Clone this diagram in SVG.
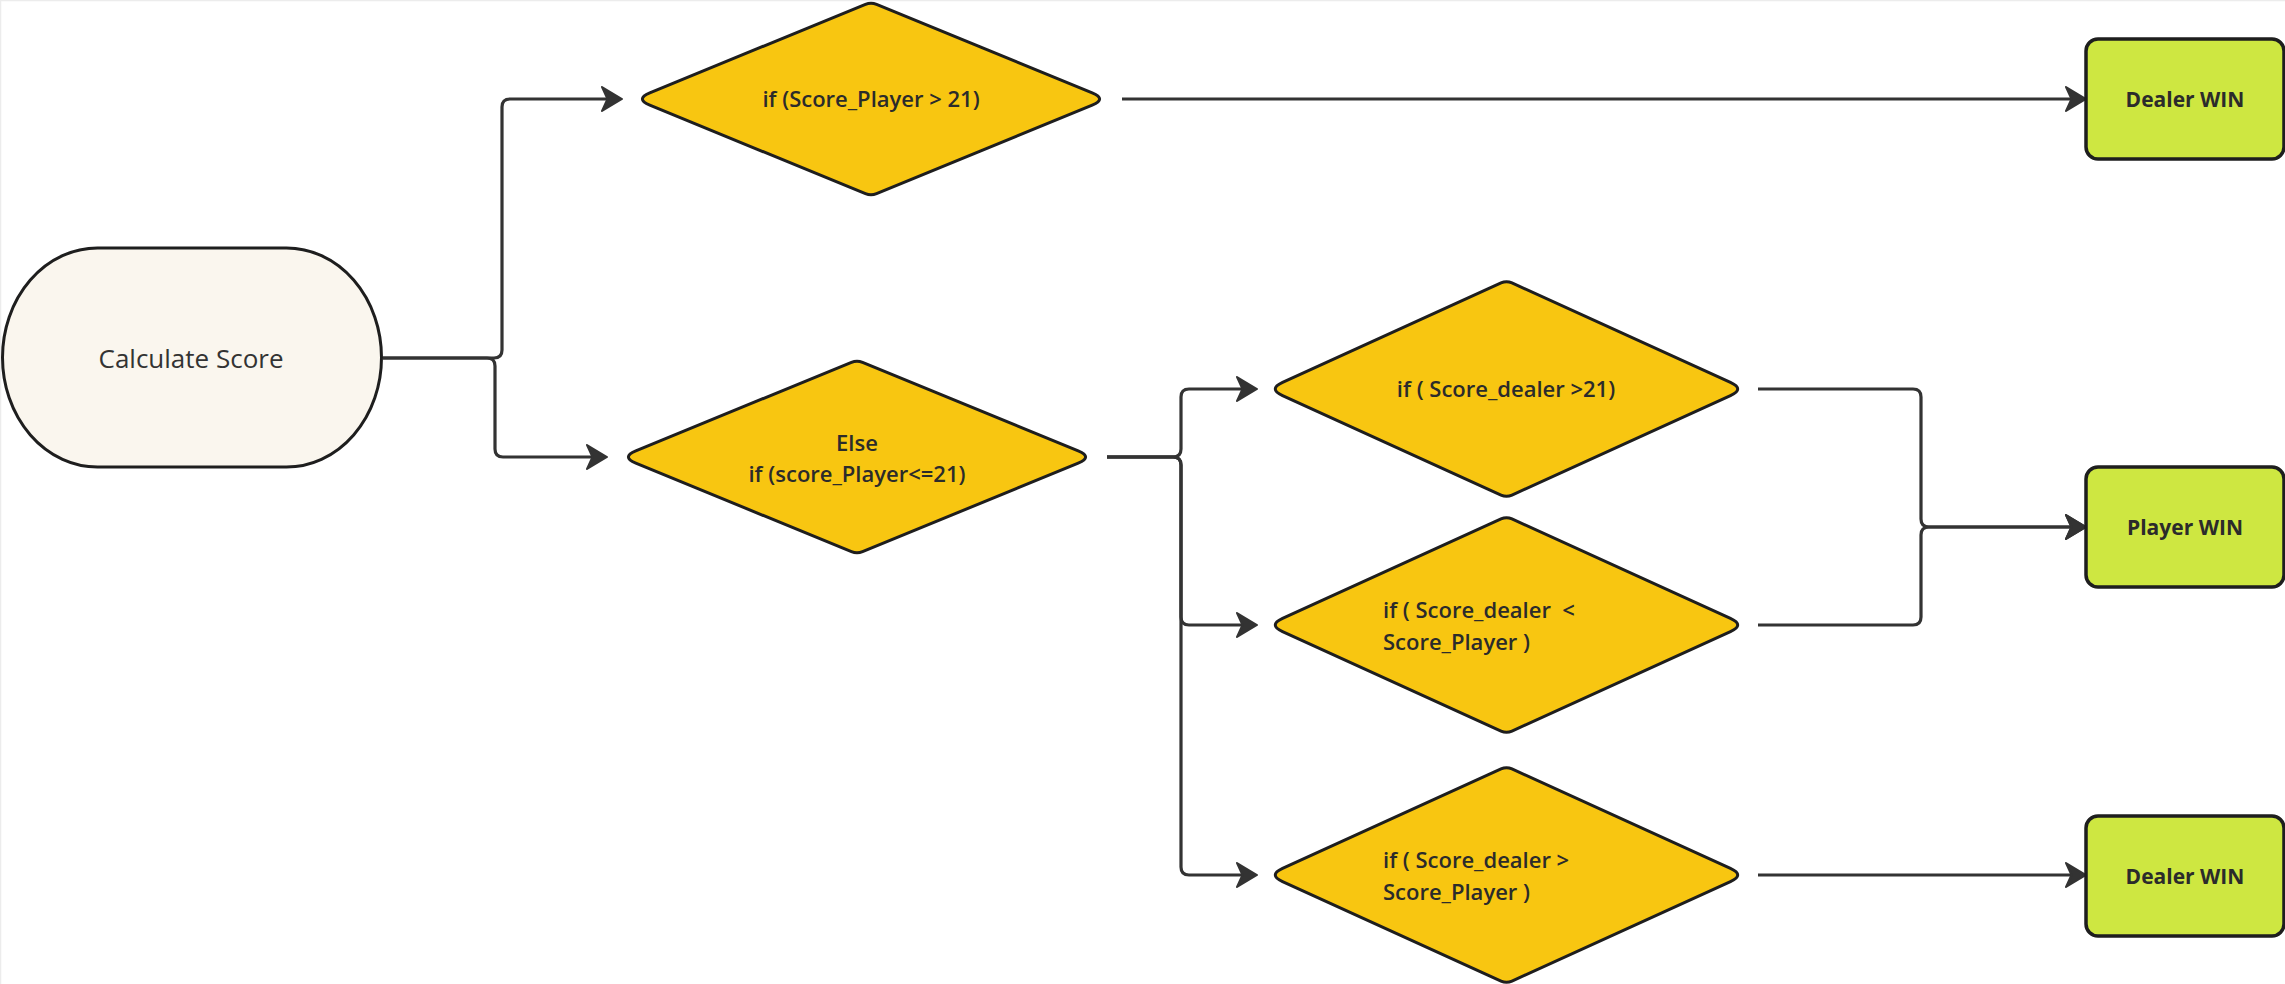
<svg xmlns="http://www.w3.org/2000/svg" xmlns:xlink="http://www.w3.org/1999/xlink" width="2285" height="984" viewBox="0 0 2285 984">
  <style>
    .edge { fill: none; stroke: #333333; stroke-width: 3.2; stroke-linejoin: round; marker-end: url(#arrow); }
    .decision { fill: #F8C611; stroke: #1E1E1E; stroke-width: 3; stroke-linejoin: round; }
    .terminal { fill: #FAF6EE; stroke: #1E1E1E; stroke-width: 3; }
    .result { fill: #CEE741; stroke: #1E1E1E; stroke-width: 3.5; }
    .t { font-family: "Open Sans", "Liberation Sans", sans-serif; fill: #2B2B2B; }
    .dt { font-size: 22px; font-weight: 600; }
    .rt { font-size: 21px; font-weight: 700; text-anchor: middle; }
    .st { font-size: 26px; font-weight: 400; text-anchor: middle; fill: #333333; }
  </style>
  <defs>
    <marker id="arrow" markerUnits="userSpaceOnUse" markerWidth="30" markerHeight="30" refX="12" refY="12" orient="auto" overflow="visible">
      <path d="M0,0 L20,12 L0,24 L5.5,12 Z" fill="#333333" stroke="#333333" stroke-width="2" stroke-linejoin="round"/>
    </marker>
    <path id="diamondA" d="M -221.2,-6.08 L -5.55,-94.72 Q 0,-97 5.55,-94.72 L 221.2,-6.08 Q 236,0 221.2,6.08 L 5.55,94.72 Q 0,97 -5.55,94.72 L -221.2,6.08 Q -236,0 -221.2,-6.08 Z"/>
    <path id="diamondB" d="M -223.94,-6.63 L -5.46,-106.02 Q 0,-108.5 5.46,-106.02 L 223.94,-6.63 Q 238.5,0 223.94,6.63 L 5.46,106.02 Q 0,108.5 -5.46,106.02 L -223.94,6.63 Q -238.5,0 -223.94,-6.63 Z"/>
  </defs>

  <rect x="0" y="0" width="2285" height="984" fill="#FFFFFF"/>
  <path d="M0.5,984 V0.5 H2285" fill="none" stroke="#ECECEC" stroke-width="1.5"/>

  <g id="connectors">
    <path class="edge" d="M383,358 H494 Q502,358 502,350 V107 Q502,99 510,99 H614"/>
    <path class="edge" d="M383,358 H487 Q495,358 495,366 V449 Q495,457 503,457 H599"/>
    <path class="edge" d="M1122,99 H2078"/>
    <path class="edge" d="M1107,457 H1173 Q1181,457 1181,449 V397 Q1181,389 1189,389 H1249"/>
    <path class="edge" d="M1107,457 H1173 Q1181,457 1181,465 V617 Q1181,625 1189,625 H1249"/>
    <path class="edge" d="M1107,457 H1173 Q1181,457 1181,465 V867 Q1181,875 1189,875 H1249"/>
    <path class="edge" d="M1758,389 H1913 Q1921,389 1921,397 V519 Q1921,527 1929,527 H2078"/>
    <path class="edge" d="M1758,625 H1913 Q1921,625 1921,617 V535 Q1921,527 1929,527 H2078"/>
    <path class="edge" d="M1758,875 H2078"/>
  </g>

  <g id="calculate-score">
    <rect class="terminal" x="2.5" y="248" width="379" height="219" rx="95" ry="109.5"/>
    <text class="t st" x="191" y="368">Calculate Score</text>
  </g>

  <g id="if-player-over-21">
    <use xlink:href="#diamondA" href="#diamondA" class="decision" transform="translate(871,99)"/>
    <text class="t dt" x="871" y="107" text-anchor="middle">if (Score_Player &gt; 21)</text>
  </g>

  <g id="else-player-le-21">
    <use xlink:href="#diamondA" href="#diamondA" class="decision" transform="translate(857,457)"/>
    <text class="t dt" x="857" y="451" text-anchor="middle">Else</text>
    <text class="t dt" x="857" y="482" text-anchor="middle">if (score_Player&lt;=21)</text>
  </g>

  <g id="if-dealer-over-21">
    <use xlink:href="#diamondB" href="#diamondB" class="decision" transform="translate(1506.5,389)"/>
    <text class="t dt" x="1506" y="397" text-anchor="middle">if ( Score_dealer &gt;21)</text>
  </g>

  <g id="if-dealer-lt-player">
    <use xlink:href="#diamondB" href="#diamondB" class="decision" transform="translate(1506.5,625)"/>
    <text class="t dt" x="1383" y="618">if ( Score_dealer&#160; &lt;</text>
    <text class="t dt" x="1383" y="650">Score_Player )</text>
  </g>

  <g id="if-dealer-gt-player">
    <use xlink:href="#diamondB" href="#diamondB" class="decision" transform="translate(1506.5,875)"/>
    <text class="t dt" x="1383" y="868">if ( Score_dealer &gt;</text>
    <text class="t dt" x="1383" y="900">Score_Player )</text>
  </g>

  <g id="dealer-win-top">
    <rect class="result" x="2086" y="39" width="198" height="120" rx="12"/>
    <text class="t rt" x="2185" y="106.5">Dealer WIN</text>
  </g>

  <g id="player-win">
    <rect class="result" x="2086" y="467" width="198" height="120" rx="12"/>
    <text class="t rt" x="2185" y="534.5">Player WIN</text>
  </g>

  <g id="dealer-win-bottom">
    <rect class="result" x="2086" y="816" width="198" height="120" rx="12"/>
    <text class="t rt" x="2185" y="883.5">Dealer WIN</text>
  </g>
</svg>
